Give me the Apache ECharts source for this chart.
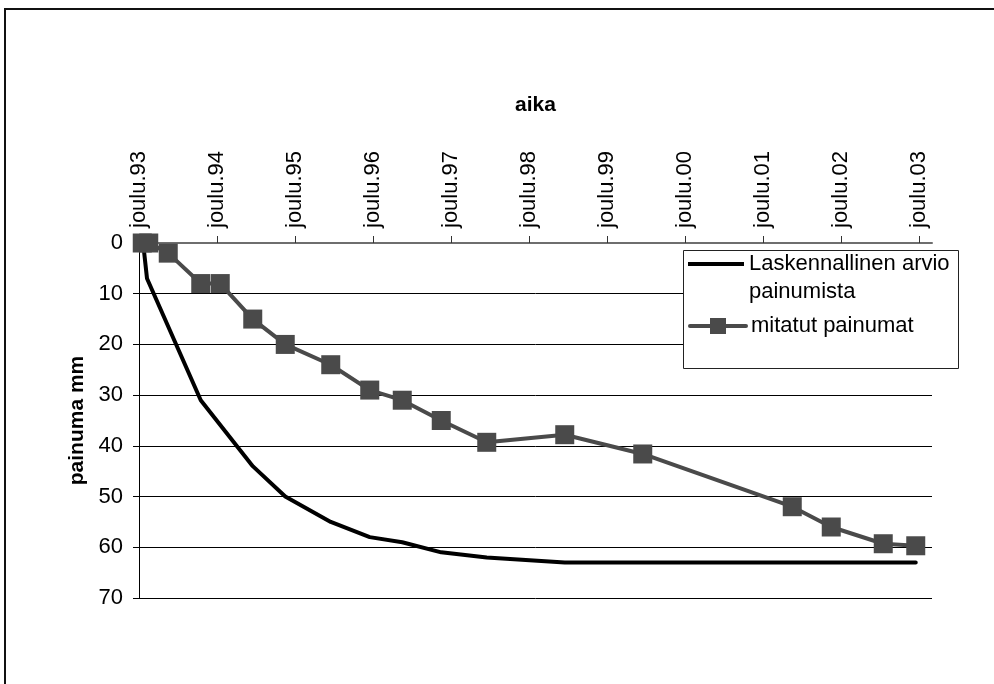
<!DOCTYPE html>
<html>
<head>
<meta charset="utf-8">
<title>painuma</title>
<script src="https://cdn.jsdelivr.net/npm/echarts@6/dist/echarts.min.js"></script>
<style>
  html, body { margin: 0; padding: 0; background: #fff; }
  #chart { width: 994px; height: 684px; }
</style>
</head>
<body>
<div id="chart"></div>
<script>
// Measurement dates and settlements (mm)
const measuredDates = [
  '1993-12-16', '1994-01-16', '1994-04-16', '1994-09-16', '1994-12-16',
  '1995-05-16', '1995-10-16', '1996-05-16', '1996-11-16', '1997-04-16',
  '1997-10-16', '1998-05-16', '1999-05-16', '2000-05-16', '2002-04-16',
  '2002-10-16', '2003-06-16', '2003-11-16'
];
const measuredValues = [
  0, 0, 2, 8, 8,
  15, 20, 24, 29, 31,
  35, 39.3, 37.8, 41.6, 52,
  56, 59.3, 59.7
];

// Calculated settlement estimate
const estimateDates = [
  '1993-12-20', '1994-01-08', '1994-09-16', '1995-05-16', '1995-10-16',
  '1996-05-16', '1996-11-16', '1997-04-16', '1997-10-16', '1998-05-16',
  '1999-05-16', '2003-11-16'
];
const estimateValues = [
  0, 7, 31, 44, 50,
  55, 58, 59, 61, 62,
  63, 63
];

// Axis ticks: one per December
const tickLabels = [
  'joulu.93', 'joulu.94', 'joulu.95', 'joulu.96', 'joulu.97', 'joulu.98',
  'joulu.99', 'joulu.00', 'joulu.01', 'joulu.02', 'joulu.03'
];
const yTicks = [0, 10, 20, 30, 40, 50, 60, 70];

const seriesNames = ['Laskennallinen arvio painumista', 'mitatut painumat'];

// Months elapsed since 1 December 1993 (the time axis runs in equal month units)
function monthIndex(dateStr) {
  const [y, m, d] = dateStr.split('-').map(Number);
  return (y - 1993) * 12 + (m - 12) + (d - 1) / 30;
}
const tickMonths = tickLabels.map((_, i) => i * 12);

const pairs = (dates, values) => dates.map((d, i) => [monthIndex(d), values[i]]);

const FONT = 'Liberation Sans, Arial, Helvetica, sans-serif';
const GREY = '#4a4a4a';

const chart = echarts.init(document.getElementById('chart'), null, { renderer: 'canvas' });

chart.setOption({
  animation: false,
  backgroundColor: '#ffffff',
  textStyle: { fontFamily: FONT, color: '#000' },
  grid: { left: 139, right: 62, top: 243, bottom: 86 },
  xAxis: {
    type: 'value',
    position: 'top',
    min: 0,
    max: 122,
    z: 1,
    name: 'aika',
    nameLocation: 'middle',
    nameGap: 127,
    nameTextStyle: { fontSize: 21, fontWeight: 'bold', color: '#000', fontFamily: FONT },
    axisLine: { show: true, lineStyle: { color: '#6e6e6e', width: 2 } },
    axisTick: {
      show: true, inside: false, length: 7,
      customValues: tickMonths,
      lineStyle: { color: '#333', width: 1 }
    },
    axisLabel: {
      show: true,
      rotate: 90,
      margin: 15,
      fontSize: 22,
      color: '#000',
      fontFamily: FONT,
      padding: [5, 0, 0, 0],
      customValues: tickMonths,
      formatter: v => tickLabels[Math.round(v / 12)] || ''
    },
    splitLine: { show: false }
  },
  yAxis: {
    type: 'value',
    inverse: true,
    min: yTicks[0],
    max: yTicks[yTicks.length - 1],
    interval: 10,
    name: 'painuma mm',
    nameLocation: 'middle',
    nameRotate: 90,
    nameGap: 51,
    nameTextStyle: { fontSize: 21, fontWeight: 'bold', color: '#000', fontFamily: FONT },
    axisLine: { show: true, lineStyle: { color: '#000', width: 1 } },
    axisTick: { show: true, inside: false, length: 6, lineStyle: { color: '#000', width: 1 } },
    axisLabel: { margin: 16, fontSize: 22, color: '#000', fontFamily: FONT },
    splitLine: { show: true, lineStyle: { color: '#000', width: 1 } }
  },
  legend: [
    {
      data: [{ name: seriesNames[0], icon: 'rect' }],
      left: 688,
      top: 222,
      padding: 0,
      itemWidth: 56,
      itemHeight: 4,
      selectedMode: false,
      // a blank first line keeps the icon level with the first line of the label
      formatter: n => '\u00a0\n' + n.replace(' painumista', '\npainumista'),
      textStyle: { fontSize: 22, lineHeight: 28, color: '#000', fontFamily: FONT }
    },
    {
      data: [seriesNames[1]],
      left: 688,
      top: 312,
      padding: 0,
      itemWidth: 56,
      itemHeight: 20,
      selectedMode: false,
      lineStyle: { width: 4, color: GREY },
      textStyle: { fontSize: 22, lineHeight: 28, color: '#000', fontFamily: FONT }
    }
  ],
  graphic: [
    {
      type: 'rect', z: 0, silent: true,
      shape: { x: 5, y: 9, width: 1100, height: 800 },
      style: { fill: 'transparent', stroke: '#111', lineWidth: 2 }
    },
    {
      type: 'rect', z: 3, silent: true,
      shape: { x: 683.5, y: 250.5, width: 275, height: 118 },
      style: { fill: '#ffffff', stroke: '#222', lineWidth: 1 }
    }
  ],
  series: [
    {
      name: seriesNames[0],
      type: 'line',
      data: pairs(estimateDates, estimateValues),
      symbol: 'none',
      itemStyle: { color: '#000' },
      lineStyle: { color: '#000', width: 4, cap: 'round', join: 'round' }
    },
    {
      name: seriesNames[1],
      type: 'line',
      data: pairs(measuredDates, measuredValues),
      symbol: 'rect',
      symbolSize: 19,
      itemStyle: { color: GREY },
      lineStyle: { color: GREY, width: 4, cap: 'round', join: 'round' }
    }
  ]
});
</script>
</body>
</html>
